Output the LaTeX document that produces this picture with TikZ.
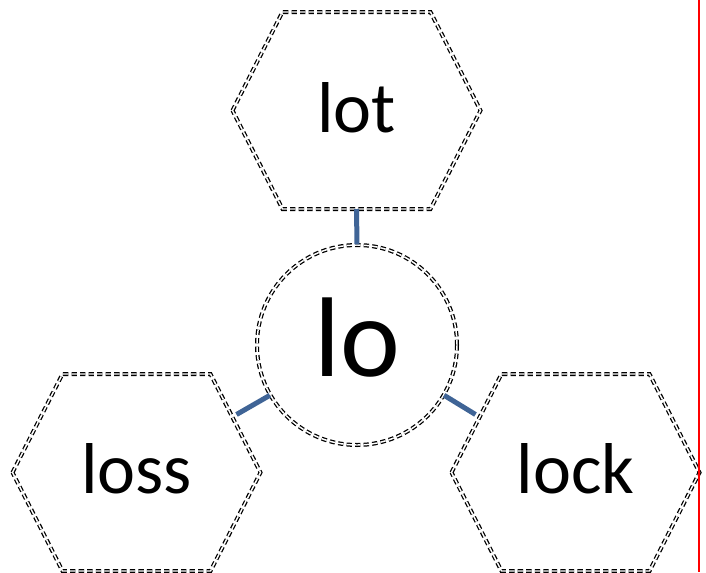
\documentclass[tikz,border=0pt]{standalone}
\usepackage{fontspec}
\setmainfont{Carlito}
\usetikzlibrary{calc}
\definecolor{linkblue}{RGB}{63,100,150}
\tikzset{
  ddash/.style={draw=black, line width=0.95pt, double=white, double distance=1.1pt, dash pattern=on 4pt off 2.4pt},
  hexlabel/.style={font=\fontsize{54}{60}\selectfont, inner sep=0pt},
  centerlabel/.style={circle, ddash, minimum size=150pt, inner sep=0pt},
  link/.style={draw=linkblue, line width=3.75pt}
}
\newcommand{\hexpath}[1]{%
  \draw[ddash] ($(#1)+(-124,0)$) -- ($(#1)+(-74,-98.5)$) -- ($(#1)+(74,-98.5)$) -- ($(#1)+(124,0)$) -- ($(#1)+(74,98.5)$) -- ($(#1)+(-74,98.5)$) -- cycle;}
\begin{document}
\begin{tikzpicture}[x=0.75pt, y=-0.75pt]
  \useasboundingbox (0,0) rectangle (706,572);
  % centers
  \coordinate (lotc) at (356.5,110.5);
  \coordinate (lossc) at (136.5,472.5);
  \coordinate (lockc) at (575.5,472.5);
  % hexagons
  \hexpath{lotc}
  \hexpath{lossc}
  \hexpath{lockc}
  % labels
  \node[hexlabel] (lot) at ($(lotc)+(0,-3)$) {lot};
  \node[hexlabel] (loss) at ($(lossc)+(0,-4)$) {loss};
  \node[hexlabel] (lock) at ($(lockc)+(0,-4)$) {lock};
  \node[centerlabel] (lo) at (357,345) {};
  \node[font=\fontsize{85}{90}\selectfont, inner sep=0pt] (lotext) at (357,338) {lo};
  % connector end points on hexagon borders
  \coordinate (lotb) at ($(lotc)+(0,98.5)$);
  \coordinate (lossb) at ($(lossc)+(100,-58)$);
  \coordinate (lockb) at ($(lockc)+(-100,-58)$);
  % connectors
  \draw[link] (lo.90) -- (lotb);
  \draw[link] (lo.210) -- (lossb);
  \draw[link] (lo.330) -- (lockb);
  % red line at right
  \coordinate (rtop) at (699,0);
  \coordinate (rbot) at (699,572);
  \draw[red, line width=1.6pt] (rtop) -- (rbot);
\end{tikzpicture}
\end{document}
